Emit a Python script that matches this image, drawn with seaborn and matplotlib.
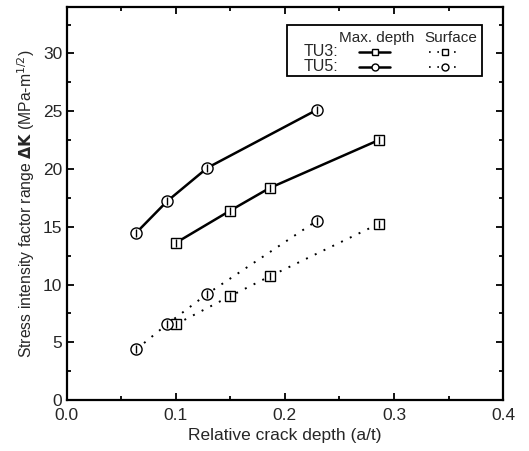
import numpy as np
import matplotlib
matplotlib.use("Agg")
import matplotlib.pyplot as plt
import seaborn as sns
from matplotlib.ticker import MultipleLocator
from matplotlib.patches import Rectangle

# values
tu3_depth_x = [0.100, 0.150, 0.186, 0.286]
tu3_depth_y = [13.6, 16.4, 18.35, 22.5]
tu5_depth_x = [0.064, 0.092, 0.129, 0.229]
tu5_depth_y = [14.5, 17.2, 20.1, 25.1]

tu3_surf_x = [0.100, 0.150, 0.186, 0.286]
tu3_surf_y = [6.55, 9.0, 10.7, 15.25]
tu5_surf_x = [0.064, 0.092, 0.129, 0.229]
tu5_surf_y = [4.4, 6.56, 9.2, 15.5]

x_ticks = [0.0, 0.1, 0.2, 0.3, 0.4]
y_ticks = [0, 5, 10, 15, 20, 25, 30]

sns.set_style("ticks")
plt.rcParams['font.family'] = ['Liberation Sans', 'DejaVu Sans']
plt.rcParams['mathtext.fontset'] = 'dejavusans'

fig = plt.figure(figsize=(5.29, 4.51), dpi=100)
ax = fig.add_axes([0.126, 0.113, 0.825, 0.871])

dot = (0, (1, 4))
series = [
    (tu3_depth_x, tu3_depth_y, 's', '-'),
    (tu5_depth_x, tu5_depth_y, 'o', '-'),
    (tu3_surf_x, tu3_surf_y, 's', dot),
    (tu5_surf_x, tu5_surf_y, 'o', dot),
]
for xs, ys, mk, ls in series:
    sns.lineplot(x=xs, y=ys, ax=ax, color='black', sort=False,
                 linestyle=ls, linewidth=1.8 if ls == '-' else 1.4,
                 marker=mk, markersize=8 if mk == 'o' else 7.5,
                 markerfacecolor='white', markeredgecolor='black',
                 markeredgewidth=1.0)
    # little vertical bar inside each symbol
    ax.plot(xs, ys, linestyle='none', marker='|', markersize=6,
            color='black', markeredgewidth=1.0)

ax.set_xlim(0, 0.4)
ax.set_ylim(0, 34)
ax.set_xticks(x_ticks)
ax.set_xticklabels([f"{v:.1f}" for v in x_ticks])
ax.set_yticks(y_ticks)
ax.xaxis.set_minor_locator(MultipleLocator(0.05))
ax.yaxis.set_minor_locator(MultipleLocator(2.5))
ax.tick_params(which='both', direction='in', top=True, right=True,
               labelsize=12.5, width=1.3, color='black')
ax.tick_params(which='major', length=5)
ax.tick_params(axis='x', which='major', pad=6)
ax.tick_params(axis='y', which='major', pad=3)
ax.tick_params(which='minor', length=3)
for s in ax.spines.values():
    s.set_linewidth(1.6)
    s.set_color('black')

ax.set_xlabel("Relative crack depth (a/t)", fontsize=12.5, labelpad=3)
ax.set_ylabel(r"Stress intensity factor range $\mathbf{\Delta K}$ (MPa-m$^{1/2}$)",
              fontsize=11.3, labelpad=4)

# hand-built legend box, laid out like the original table
tr = ax.transAxes
ax.add_patch(Rectangle((0.505, 0.825), 0.447, 0.13, transform=tr,
                       fill=False, edgecolor='black', linewidth=1.3, zorder=5))
ax.text(0.710, 0.921, "Max. depth", transform=tr, ha='center', va='center', fontsize=11)
ax.text(0.880, 0.921, "Surface", transform=tr, ha='center', va='center', fontsize=11)
ax.text(0.544, 0.886, "TU3:", transform=tr, ha='left', va='center', fontsize=11.5)
ax.text(0.544, 0.849, "TU5:", transform=tr, ha='left', va='center', fontsize=11.5)
for yy, mk in [(0.886, 's'), (0.849, 'o')]:
    ax.plot([0.670, 0.741], [yy, yy], transform=tr, color='black', linewidth=1.8)
    ax.plot([0.7055], [yy], transform=tr, marker=mk, markersize=5,
            markerfacecolor='white', markeredgecolor='black', color='black')
    ax.plot([0.830, 0.906], [yy, yy], transform=tr, color='black',
            linewidth=1.2, linestyle=dot)
    ax.plot([0.868], [yy], transform=tr, marker=mk, markersize=5,
            markerfacecolor='white', markeredgecolor='black', color='black')

fig.savefig("out.png", dpi=100)
